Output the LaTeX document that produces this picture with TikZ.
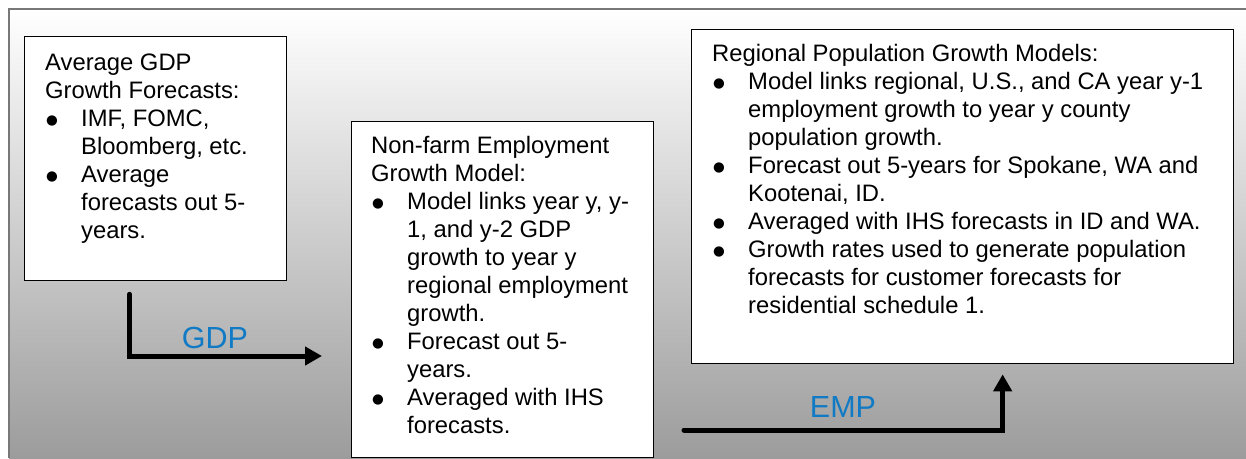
\documentclass[tikz,border=0pt]{standalone}
\usepackage{fontspec}
\setmainfont{Liberation Sans}
\newfontfamily\dejavu{DejaVu Sans}
\usetikzlibrary{arrows.meta}
\definecolor{lblblue}{RGB}{16,122,196}
\definecolor{bgbot}{RGB}{156,156,156}
\definecolor{framegray}{RGB}{120,120,120}
\newcommand\bitem[1]{\makebox[36pt][l]{\hspace{1pt}\raisebox{2pt}{\dejavu\fontsize{13.5}{13.5}\selectfont ●}}#1}
\newcommand\cont[1]{\hspace*{36pt}#1}
\begin{document}
\begin{tikzpicture}[x=1pt,y=-1pt,
  box/.style={draw=black, line width=1.3pt, fill=white, inner sep=0pt, anchor=north west},
  txt/.style={anchor=base west, inner sep=0pt, font=\fontsize{23.8}{28}\selectfont},
  flow/.style={line width=5pt, line cap=round, line join=miter, -{Triangle[length=17pt,width=18pt]}},
  flowlabel/.style={text=lblblue, font=\fontsize{30.5}{30}\selectfont, anchor=base, inner sep=0pt}]
\useasboundingbox (0,0) rectangle (1246,458);
\shade[top color=white, bottom color=bgbot] (9,9) rectangle (1246,458);
\draw[framegray, line width=2.5pt] (9,458) -- (9,9) -- (1246,9);

\node[box, minimum width=262pt, minimum height=244pt] (b1) at (24,36) {};
\node[box, minimum width=302pt, minimum height=336pt] (b2) at (350.5,121) {};
\node[box, minimum width=542pt, minimum height=334pt] (b3) at (691,29) {};

\node[txt] (t1) at (45,70) {\parbox[t]{240pt}{Average GDP\\
Growth Forecasts:\\
\bitem{IMF, FOMC,}\\
\cont{Bloomberg, etc.}\\
\bitem{Average}\\
\cont{forecasts out 5-}\\
\cont{years.}}};

\node[txt] (t2) at (371,153) {\parbox[t]{280pt}{Non-farm Employment\\
Growth Model:\\
\bitem{Model links year y, y-}\\
\cont{1, and y-2 GDP}\\
\cont{growth to year y}\\
\cont{regional employment}\\
\cont{growth.}\\
\bitem{Forecast out 5-}\\
\cont{years.}\\
\bitem{Averaged with IHS}\\
\cont{forecasts.}}};

\node[txt] (t3) at (712,61) {\parbox[t]{515pt}{Regional Population Growth Models:\\
\bitem{Model links regional, U.S., and CA year y-1}\\
\cont{employment growth to year y county}\\
\cont{population growth.}\\
\bitem{Forecast out 5-years for Spokane, WA and}\\
\cont{Kootenai, ID.}\\
\bitem{Averaged with IHS forecasts in ID and WA.}\\
\bitem{Growth rates used to generate population}\\
\cont{forecasts for customer forecasts for}\\
\cont{residential schedule 1.}}};

\coordinate (g0) at ([xshift=-26pt,yshift=-13pt]b1.south);
\coordinate (g1) at ([xshift=-28.5pt]b2.west |- 0,356);
\draw[flow] (g0) |- (g1);
\node[flowlabel] (lg) at (215,348) {GDP};

\coordinate (e0) at (684,430);
\coordinate (e1) at ([xshift=40pt,yshift=-10pt]b3.south);
\draw[flow] (e0) -| (e1);
\node[flowlabel] (le) at (843,417) {EMP};
\end{tikzpicture}
\end{document}
